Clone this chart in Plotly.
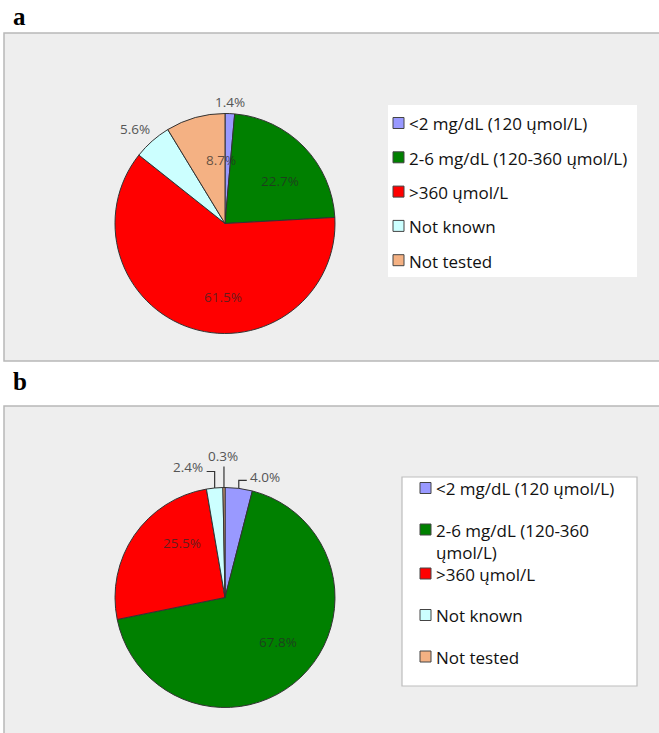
import math
import textwrap
import plotly.graph_objects as go

# ---- data -----------------------------------------------------------------
categories = [
    "<2 mg/dL (120 ųmol/L)",
    "2-6 mg/dL (120-360 ųmol/L)",
    ">360 ųmol/L",
    "Not known",
    "Not tested",
]
share_a = [1.4, 22.7, 61.5, 5.6, 8.7]
share_b = [4.0, 67.8, 25.5, 2.4, 0.3]
panel_titles = ["a", "b"]

# ---- styling ----------------------------------------------------------------
W, H = 659, 733
slice_colors = ["#9999ff", "#008000", "#ff0000", "#ccffff", "#f4b183"]
panel_fill = "#eeeeee"
panel_edge = "#b8b8b8"
inside_text = "rgba(40,40,40,0.72)"
outside_text = "#555555"
label_font = "Open Sans"
label_size = 13.5
legend_size = 17
wrap_line = 20.5


def X(px):
    return px / W


def Y(py):
    return 1 - py / H


fig = go.Figure()
shapes = []
annotations = []

panels = [
    dict(values=share_a, title_y=16, box=(4, 33, 662, 361),
         center=(225, 223.5), r=110,
         legend_box=(388, 105, 637, 277), legend_border=None,
         legend_sq_x=393, legend_text_x=408, legend_top=123, legend_step=34.3,
         wrap=40, callouts={}),
    dict(values=share_b, title_y=381, box=(4, 406, 662, 736),
         center=(225, 597.5), r=110,
         legend_box=(402, 477, 637, 686), legend_border="#bdbdbd",
         legend_sq_x=420, legend_text_x=435, legend_top=488, legend_step=41.5,
         wrap=22,
         # elbow leaders for the thin top slices: (rise, run) in px
         callouts={0: (8, 8), 3: (16.5, -8), 4: (21, 0)}),
]

for p, title in zip(panels, panel_titles):
    x0, y0, x1, y1 = p["box"]
    shapes.append(dict(type="rect", xref="paper", yref="paper", layer="below",
                       x0=X(x0), x1=X(x1), y0=Y(y1), y1=Y(y0),
                       fillcolor=panel_fill,
                       line=dict(color=panel_edge, width=1.5)))
    annotations.append(dict(text=f"<b>{title}</b>", xref="paper", yref="paper",
                            x=X(11), y=Y(p["title_y"]), xanchor="left",
                            yanchor="middle", showarrow=False,
                            font=dict(family="Liberation Serif", size=25,
                                      color="#000000")))

    cx, cy = p["center"]
    r = p["r"]
    fig.add_trace(go.Pie(
        labels=categories, values=p["values"], sort=False,
        direction="clockwise", rotation=0, textinfo="none",
        hoverinfo="label+percent", showlegend=False,
        marker=dict(colors=slice_colors, line=dict(color="#333333", width=1)),
        domain=dict(x=[X(cx - r), X(cx + r)], y=[Y(cy + r), Y(cy - r)]),
    ))

    # percentage labels, placed from the slice angles
    total = sum(p["values"])
    start = 0.0
    for i, v in enumerate(p["values"]):
        span = 360.0 * v / total
        mid = math.radians(start + span / 2)
        start += span
        s, c = math.sin(mid), math.cos(mid)
        txt = f"{v:.1f}%"
        if v >= 8:
            rr = 0.7 * r
            annotations.append(dict(text=txt, xref="paper", yref="paper",
                                    x=X(cx + rr * s), y=Y(cy - rr * c),
                                    showarrow=False,
                                    font=dict(family=label_font, size=label_size,
                                              color=inside_text)))
        elif i in p["callouts"]:
            rise, run = p["callouts"][i]
            ex, ey = cx + r * s, cy - r * c
            ty = ey - rise
            tx = ex + run
            shapes.append(dict(type="path", xref="paper", yref="paper",
                               path=f"M{X(ex)},{Y(ey)} L{X(ex)},{Y(ty)} L{X(tx)},{Y(ty)}",
                               line=dict(color="#333333", width=1.2)))
            if run > 0:
                pos = dict(x=X(tx + 1), y=Y(ty - 3), xanchor="left", yanchor="middle")
            elif run < 0:
                pos = dict(x=X(tx - 2), y=Y(ty - 4), xanchor="right", yanchor="middle")
            else:
                pos = dict(x=X(tx - 1), y=Y(ty), xanchor="center", yanchor="bottom")
            annotations.append(dict(text=txt, xref="paper", yref="paper",
                                    showarrow=False,
                                    font=dict(family=label_font, size=label_size,
                                              color=outside_text), **pos))
        else:
            rr = r + 1
            xa = "left" if s > 0.3 else ("right" if s < -0.3 else "center")
            ya = "bottom" if c > 0.3 else ("top" if c < -0.3 else "middle")
            annotations.append(dict(text=txt, xref="paper", yref="paper",
                                    x=X(cx + rr * s), y=Y(cy - rr * c),
                                    xanchor=xa, yanchor=ya, showarrow=False,
                                    font=dict(family=label_font, size=label_size,
                                              color=outside_text)))

    # legend drawn as a white box with swatches
    lx0, ly0, lx1, ly1 = p["legend_box"]
    border = p["legend_border"]
    shapes.append(dict(type="rect", xref="paper", yref="paper", layer="below",
                       x0=X(lx0), x1=X(lx1), y0=Y(ly1), y1=Y(ly0),
                       fillcolor="#ffffff",
                       line=dict(color=border if border else "#ffffff",
                                 width=1.2 if border else 0)))
    extra = 0.0
    for i, (name, col) in enumerate(zip(categories, slice_colors)):
        ry = p["legend_top"] + i * p["legend_step"] + extra
        sq = 11
        shapes.append(dict(type="rect", xref="paper", yref="paper", layer="below",
                           x0=X(p["legend_sq_x"]), x1=X(p["legend_sq_x"] + sq),
                           y0=Y(ry + sq / 2), y1=Y(ry - sq / 2),
                           fillcolor=col, line=dict(color="#444444", width=1)))
        lines = textwrap.wrap(name, p["wrap"])
        annotations.append(dict(text="<br>".join(lines), xref="paper", yref="paper",
                                x=X(p["legend_text_x"]),
                                y=Y(ry - legend_size * 0.68), align="left",
                                xanchor="left", yanchor="top",
                                showarrow=False, borderpad=0,
                                font=dict(family=label_font, size=legend_size,
                                          color="#111111")))
        if len(lines) > 1:
            extra += 2.5

fig.update_layout(
    width=W, height=H,
    margin=dict(l=0, r=0, t=0, b=0),
    paper_bgcolor="#ffffff",
    plot_bgcolor="#ffffff",
    shapes=shapes,
    annotations=annotations,
)

fig.write_html("out.html")
